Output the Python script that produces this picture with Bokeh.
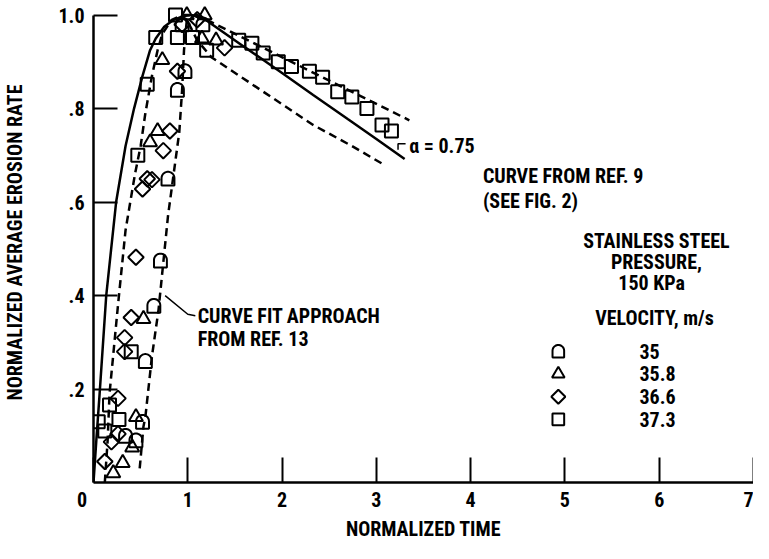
import numpy as np
from bokeh.plotting import figure
from bokeh.models import FixedTicker, Label, Range1d
from bokeh.embed import file_html
from bokeh.resources import INLINE

# ---------------- data ----------------
time_ticks = [0, 1, 2, 3, 4, 5, 6, 7]
time_tick_labels = ["0", "1", "2", "3", "4", "5", "6", "7"]
rate_ticks = [0.2, 0.4, 0.6, 0.8, 1.0]
rate_tick_labels = [".2", ".4", ".6", ".8", "1.0"]

velocity_labels = ["35", "35.8", "36.6", "37.3"]

# velocity 35 m/s (dome symbol)
v35_t = [0.34, 0.45, 0.52, 0.55, 0.64, 0.71, 0.79, 0.89, 0.97, 0.94, 1.16]
v35_y = [0.10, 0.09, 0.13, 0.26, 0.378, 0.475, 0.65, 0.84, 0.88, 0.98, 0.98]

# velocity 35.8 m/s (triangle)
v358_t = [0.21, 0.31, 0.41, 0.45, 0.53, 0.60, 0.68, 0.73, 0.99, 1.15, 1.18, 1.30]
v358_y = [0.02, 0.042, 0.075, 0.14, 0.35, 0.728, 0.752, 0.904, 1.0, 0.95, 1.0, 0.946]

# velocity 36.6 m/s (diamond)
v366_t = [0.12, 0.19, 0.26, 0.26, 0.33, 0.33, 0.40, 0.45, 0.52, 0.57, 0.62, 0.74, 0.81, 0.89, 0.94, 1.10, 1.39]
v366_y = [0.045, 0.087, 0.104, 0.18, 0.28, 0.31, 0.353, 0.482, 0.628, 0.65, 0.648, 0.71, 0.752, 0.88, 0.98, 0.99, 0.93]

# velocity 37.3 m/s (square)
v373_t = [0.05, 0.12, 0.17, 0.27, 0.40, 0.47, 0.57, 0.66, 0.87, 0.89, 1.05, 1.20, 1.54, 1.68,
          1.80, 1.96, 2.10, 2.29, 2.43, 2.59, 2.74, 2.90, 3.06, 3.16]
v373_y = [0.13, 0.11, 0.166, 0.135, 0.28, 0.70, 0.852, 0.952, 1.0, 0.952, 0.952, 0.925, 0.946, 0.94,
          0.919, 0.90, 0.89, 0.88, 0.867, 0.836, 0.825, 0.80, 0.765, 0.752]

# curve from ref. 9, alpha = 0.75 (solid)
ref9_t = [0.0, 0.03, 0.065, 0.135, 0.24, 0.34, 0.43, 0.52, 0.60, 0.66, 0.75, 0.85, 0.95, 1.05,
          1.21, 1.6, 2.0, 2.33, 2.7, 3.0, 3.30]
ref9_y = [0.0, 0.09, 0.19, 0.40, 0.60, 0.72, 0.80, 0.87, 0.925, 0.95, 0.975, 0.99, 0.998, 1.0,
          0.987, 0.932, 0.876, 0.829, 0.777, 0.735, 0.692]

# curve fit approach from ref. 13 (dashed band)
fit_upper_t = [0.12, 0.15, 0.17, 0.26, 0.34, 0.44, 0.50, 0.55, 0.62, 0.68, 0.73, 0.83, 0.95, 1.10, 1.25, 3.35]
fit_upper_y = [0.0, 0.09, 0.19, 0.38, 0.54, 0.66, 0.72, 0.79, 0.87, 0.925, 0.96, 0.99, 1.0, 1.0, 0.985, 0.775]
fit_lower_t = [0.49, 0.53, 0.55, 0.62, 0.69, 0.74, 0.79, 0.85, 0.91, 0.94, 0.96, 0.99, 1.10, 1.25, 2.33, 2.74, 3.08]
fit_lower_y = [0.03, 0.12, 0.14, 0.27, 0.37, 0.47, 0.57, 0.66, 0.75, 0.84, 0.925, 0.99, 0.946, 0.91, 0.765, 0.72, 0.68]

# ---------------- layout ----------------
FONT = "Roboto Condensed, DejaVu Sans Condensed, Liberation Sans Narrow, Roboto, sans-serif"
FS = "20px"
FSTYLE = "bold"
INK = "black"
W, H = 753, 543
BL, BR, BT, BB = 88, 0, 2, 54
X0, X1 = 0.0, 7.0
Y0, Y1 = 0.0, 1.027
FW = W - BL - BR
FH = H - BT - BB
XPX = FW / (X1 - X0)
YPX = FH / (Y1 - Y0)

p = figure(width=W, height=H, x_range=Range1d(X0, X1), y_range=Range1d(Y0, Y1),
           output_backend="svg", toolbar_location=None,
           min_border_left=BL, min_border_right=BR, min_border_top=BT, min_border_bottom=BB)
p.outline_line_color = None
p.grid.visible = False
p.background_fill_color = "white"
p.border_fill_color = "white"

xa = p.xaxis[0]
xa.ticker = FixedTicker(ticks=time_ticks)
ov = dict(zip(time_ticks, time_tick_labels))
# the "0" label sits left of the origin in the original
ov[time_ticks[0]] = time_tick_labels[0] + "\u00a0" * 5
xa.major_label_overrides = ov
xa.major_tick_in = 25
xa.major_tick_out = 0
xa.minor_tick_in = 0
xa.minor_tick_out = 0
xa.axis_line_width = 2.5
xa.axis_line_color = INK
xa.major_tick_line_width = 2
xa.major_tick_line_color = INK
xa.major_label_text_font = FONT
xa.major_label_text_font_size = FS
xa.major_label_text_font_style = FSTYLE
xa.major_label_text_color = INK
xa.major_label_standoff = 5
xa.axis_label = "NORMALIZED TIME"
xa.axis_label_text_font = FONT
xa.axis_label_text_font_size = FS
xa.axis_label_text_font_style = FSTYLE
xa.axis_label_text_color = INK
xa.axis_label_standoff = 2
xa.bounds = (X0, X1)

ya = p.yaxis[0]
ya.ticker = FixedTicker(ticks=rate_ticks)
ya.major_label_overrides = dict(zip(rate_ticks, rate_tick_labels))
ya.major_tick_in = 24
ya.major_tick_out = 0
ya.minor_tick_in = 0
ya.minor_tick_out = 0
ya.axis_line_width = 2.5
ya.axis_line_color = INK
ya.major_tick_line_width = 2
ya.major_tick_line_color = INK
ya.major_label_text_font = FONT
ya.major_label_text_font_size = FS
ya.major_label_text_font_style = FSTYLE
ya.major_label_text_color = INK
ya.major_label_standoff = 9
ya.axis_label = "NORMALIZED AVERAGE EROSION RATE"
ya.axis_label_text_font = FONT
ya.axis_label_text_font_size = FS
ya.axis_label_text_font_style = FSTYLE
ya.axis_label_text_color = INK
ya.axis_label_standoff = 28
ya.bounds = (0.0, 1.0)

LW = 2.5
# curves
p.line(ref9_t, ref9_y, line_color=INK, line_width=LW)
p.line(fit_upper_t, fit_upper_y, line_color=INK, line_width=LW, line_dash="8 5")
p.line(fit_lower_t, fit_lower_y, line_color=INK, line_width=LW, line_dash="8 5")

MLW = 2


def dome_polys(ts, ys, w=13.0, h=14.0):
    r = w / 2.0
    ang = np.linspace(0, np.pi, 16)
    bx = np.concatenate([[-r, r, r], r * np.cos(ang), [-r]])
    by = np.concatenate([[-h / 2, -h / 2, h / 2 - r], (h / 2 - r) + r * np.sin(ang), [-h / 2]])
    xs = [list(t + bx / XPX) for t in ts]
    yss = [list(y + by / YPX) for y in ys]
    return xs, yss


def draw_symbols(kind, ts, ys, scale=1.0):
    if kind == "dome":
        xs, yss = dome_polys(ts, ys, 13 * scale, 14 * scale)
        p.patches(xs, yss, fill_color=None, line_color=INK, line_width=MLW)
    elif kind == "triangle":
        p.scatter(ts, ys, marker="triangle", size=14 * scale, fill_color=None,
                  line_color=INK, line_width=MLW)
    elif kind == "diamond":
        p.scatter(ts, ys, marker="square", angle=np.pi / 4, size=11 * scale, fill_color=None,
                  line_color=INK, line_width=MLW)
    else:
        p.scatter(ts, ys, marker="square", size=13 * scale, fill_color=None,
                  line_color=INK, line_width=MLW)


kinds = ["dome", "triangle", "diamond", "square"]
series = [(v35_t, v35_y), (v358_t, v358_y), (v366_t, v366_y), (v373_t, v373_y)]
for k, (ts, ys) in zip(kinds, series):
    draw_symbols(k, ts, ys)


def txt(x, y, s, align="left"):
    p.add_layout(Label(x=x, y=y, text=s, text_font=FONT, text_font_size=FS, text_color=INK,
                       text_font_style=FSTYLE, text_baseline="middle", text_align=align))


# legend (manual)
LEG_X, LEG_TX, LEG_Y0, LEG_DY = 4.93, 5.79, 0.281, 0.0487
for i, (k, lab) in enumerate(zip(kinds, velocity_labels)):
    yy = LEG_Y0 - i * LEG_DY
    draw_symbols(k, [LEG_X], [yy], scale=0.9)
    txt(LEG_TX, yy, lab)

txt(3.35, 0.721, "\u03b1 = 0.75")
txt(4.13, 0.655, "CURVE FROM REF. 9")
txt(4.13, 0.603, "(SEE FIG. 2)")
txt(5.97, 0.516, "STAINLESS STEEL", "center")
txt(5.97, 0.472, "PRESSURE,", "center")
txt(5.92, 0.426, "150 KPa", "center")
txt(5.95, 0.353, "VELOCITY, m/s", "center")
txt(1.105, 0.357, "CURVE FIT APPROACH")
txt(1.105, 0.308, "FROM REF. 13")

# leaders
p.line([3.23, 3.23, 3.31], [0.712, 0.725, 0.725], line_color=INK, line_width=1.5)
p.line([0.76, 1.0, 1.08], [0.40, 0.36, 0.357], line_color=INK, line_width=1.5)

open("out.html", "w").write(file_html(p, INLINE))
